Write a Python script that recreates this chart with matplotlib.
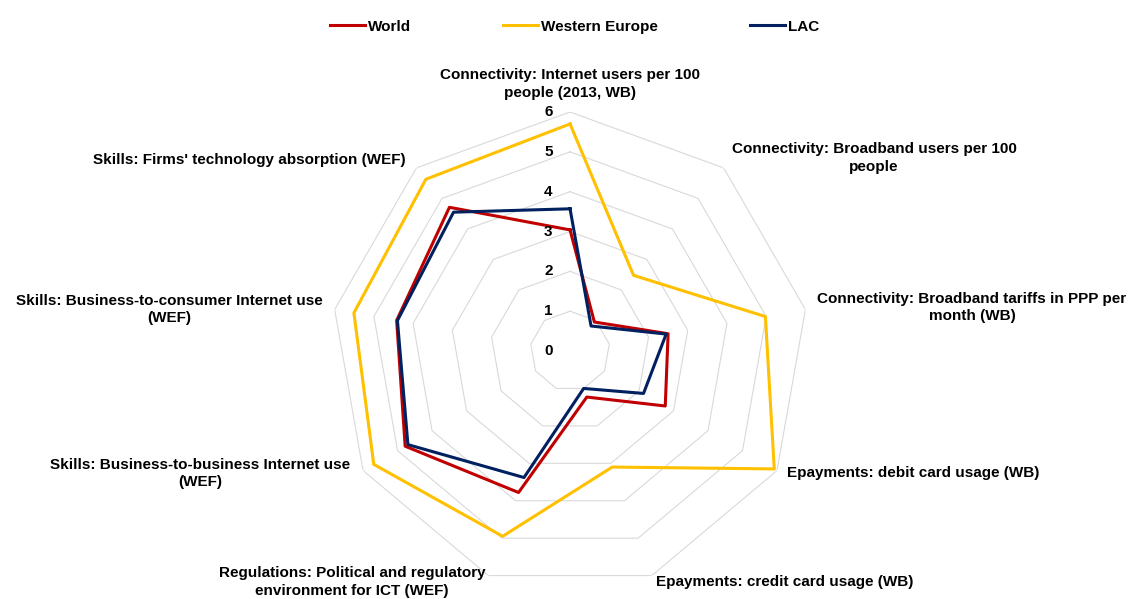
import matplotlib.pyplot as plt
import numpy as np

plt.rcParams['font.family'] = ['Liberation Sans', 'DejaVu Sans']
plt.rcParams['font.weight'] = 'bold'

categories = [
    "Connectivity: Internet users per 100\npeople (2013, WB)",
    "Connectivity: Broadband users per 100\npeople",
    "Connectivity: Broadband tariffs in PPP per\nmonth (WB)",
    "Epayments: debit card usage (WB)",
    "Epayments: credit card usage (WB)",
    "Regulations: Political and regulatory\nenvironment for ICT (WEF)",
    "Skills: Business-to-business Internet use\n(WEF)",
    "Skills: Business-to-consumer Internet use\n(WEF)",
    "Skills: Firms' technology absorption (WEF)",
]
world = [3.04, 0.95, 2.50, 2.76, 1.23, 3.78, 4.78, 4.42, 4.71]
western_europe = [5.70, 2.48, 4.98, 5.92, 3.10, 4.95, 5.69, 5.51, 5.63]
lac = [3.57, 0.82, 2.45, 2.13, 1.00, 3.38, 4.70, 4.40, 4.55]
ticks = [0, 1, 2, 3, 4, 5, 6]

n = len(categories)
theta = np.arange(n) * 2 * np.pi / n
theta_c = np.append(theta, theta[0])

fig = plt.figure(figsize=(11.36, 5.99), dpi=100)
ax = fig.add_axes([0.2914, 0.015, 0.4208, 0.798], projection='polar')
ax.set_theta_offset(np.pi / 2)
ax.set_theta_direction(-1)
ax.set_ylim(0, 6)
ax.grid(False)
ax.spines['polar'].set_visible(False)
ax.set_xticks([])
ax.set_yticks([])

# nonagon grid rings
for lv in ticks[1:]:
    ax.plot(theta_c, [lv] * (n + 1), color='#D9D9D9', lw=0.8, zorder=1)

ax.plot(theta_c, world + world[:1], color='#C00000', lw=2.2, label='World', zorder=3)
ax.plot(theta_c, western_europe + western_europe[:1], color='#FFC000', lw=2.2,
        label='Western Europe', zorder=2)
ax.plot(theta_c, lac + lac[:1], color='#002060', lw=2.2, label='LAC', zorder=4)

# value labels along the top axis
for lv in ticks:
    ax.annotate(str(lv), xy=(0, lv), xytext=(-12.5, 0), textcoords='offset points',
                ha='right', va='center', fontsize=11, fontweight='bold')

# category labels: (ha, va, dx px, dy px)
placement = [
    ('center', 'bottom', 0, 12),
    ('left', 'center', 8, 10),
    ('left', 'center', 12, 2),
    ('left', 'center', 10, -2),
    ('left', 'center', 4, -6),
    ('right', 'center', -3, -6),
    ('right', 'center', -13, -3),
    ('right', 'center', -12, 0),
    ('right', 'center', -11, 8),
]
for t, lab, (ha, va, dx, dy) in zip(theta, categories, placement):
    ax.annotate(lab, xy=(t, 6), xytext=(dx * 0.72, dy * 0.72),
                textcoords='offset points', ha=ha, va=va, fontsize=11,
                fontweight='bold', multialignment='center', linespacing=1.35,
                annotation_clip=False)

fig.legend(loc='upper center', bbox_to_anchor=(0.506, 0.99), ncol=3, frameon=False,
           fontsize=11, handlelength=2.3, handletextpad=0.2, columnspacing=6.0)

fig.savefig('out.png', dpi=100)
